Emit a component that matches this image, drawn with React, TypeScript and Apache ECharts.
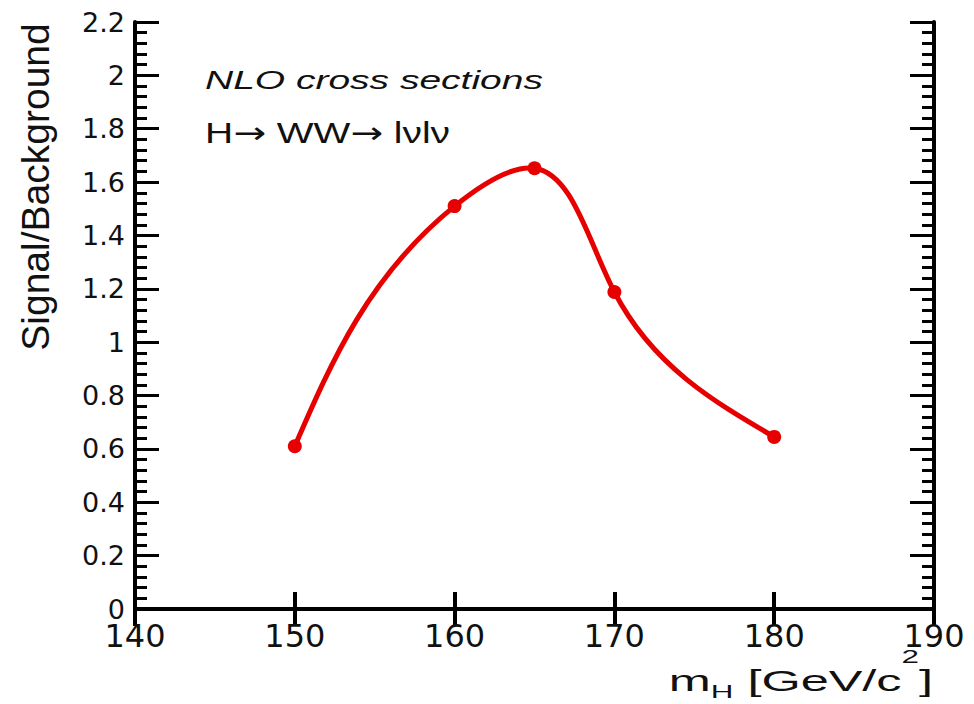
import React, { useEffect, useRef } from "react";
import * as echarts from "echarts";

// ---- data ----
const massValues: number[] = [150, 160, 165, 170, 180]; // m_H [GeV/c^2]
const signalOverBackground: number[] = [0.61, 1.51, 1.652, 1.188, 0.645];

const X_MIN = 140;
const X_MAX = 190;
const X_STEP = 10;
const Y_MIN = 0;
const Y_MAX = 2.2;
const Y_STEP = 0.2;

const yTitle = "Signal/Background";
const note1 = "NLO cross sections";

const RED = "#e60000";

// Natural cubic spline second derivatives for knots t and values v
function secondDerivs(t: number[], v: number[]): number[] {
  const n = t.length;
  const M = new Array(n).fill(0);
  if (n < 3) return M;
  const m = n - 2;
  const a: number[] = [], b: number[] = [], c: number[] = [], r: number[] = [];
  for (let i = 1; i <= n - 2; i++) {
    const h0 = t[i] - t[i - 1];
    const h1 = t[i + 1] - t[i];
    a.push(h0);
    b.push(2 * (h0 + h1));
    c.push(h1);
    r.push(6 * ((v[i + 1] - v[i]) / h1 - (v[i] - v[i - 1]) / h0));
  }
  for (let i = 1; i < m; i++) {
    const w = a[i] / b[i - 1];
    b[i] -= w * c[i - 1];
    r[i] -= w * r[i - 1];
  }
  const sol = new Array(m).fill(0);
  sol[m - 1] = r[m - 1] / b[m - 1];
  for (let i = m - 2; i >= 0; i--) sol[i] = (r[i] - c[i] * sol[i + 1]) / b[i];
  for (let i = 0; i < m; i++) M[i + 1] = sol[i];
  return M;
}

// Smooth parametric (chord-length) spline through pixel points, as SVG path data
function splinePath(pts: number[][]): string {
  const n = pts.length;
  if (n < 2) return "";
  const t: number[] = [0];
  for (let i = 1; i < n; i++) {
    const dx = pts[i][0] - pts[i - 1][0];
    const dy = pts[i][1] - pts[i - 1][1];
    t.push(t[i - 1] + Math.max(1e-6, Math.sqrt(dx * dx + dy * dy)));
  }
  const xs = pts.map((p) => p[0]);
  const ys = pts.map((p) => p[1]);
  const Mx = secondDerivs(t, xs);
  const My = secondDerivs(t, ys);
  let d = `M${xs[0]},${ys[0]}`;
  for (let i = 0; i < n - 1; i++) {
    const h = t[i + 1] - t[i];
    const ctrl = (v: number[], M: number[]) => {
      const sl = (v[i + 1] - v[i]) / h;
      const s0 = sl - (h * (2 * M[i] + M[i + 1])) / 6;
      const s1 = sl + (h * (M[i] + 2 * M[i + 1])) / 6;
      return [v[i] + (s0 * h) / 3, v[i + 1] - (s1 * h) / 3];
    };
    const [cx1, cx2] = ctrl(xs, Mx);
    const [cy1, cy2] = ctrl(ys, My);
    d += ` C${cx1},${cy1} ${cx2},${cy2} ${xs[i + 1]},${ys[i + 1]}`;
  }
  return d;
}

export default function App() {
  const ref = useRef<HTMLDivElement | null>(null);

  useEffect(() => {
    if (!ref.current) return;
    const chart = echarts.init(ref.current, undefined, { renderer: "svg" });

    const axisLineStyle = { color: "#000", width: 4 };
    const labelFont = "DejaVu Sans";
    const points = massValues.map((m, i) => [m, signalOverBackground[i]]);

    const option: echarts.EChartsCoreOption = {
      animation: false,
      backgroundColor: "#fff",
      grid: { left: 135, right: 40, top: 22, bottom: 95, containLabel: false },
      xAxis: [
        {
          type: "value",
          position: "bottom",
          min: X_MIN,
          max: X_MAX,
          interval: X_STEP,
          axisLine: { show: true, lineStyle: axisLineStyle },
          axisTick: { show: true, inside: true, length: 17, lineStyle: { color: "#000", width: 4 } },
          axisLabel: {
            show: true,
            margin: 14,
            color: "#111",
            fontFamily: labelFont,
            fontSize: 32,
            lineHeight: 26,
          },
          splitLine: { show: false },
        },
        {
          type: "value",
          position: "top",
          min: X_MIN,
          max: X_MAX,
          interval: X_STEP,
          axisLine: { show: true, lineStyle: axisLineStyle },
          axisTick: { show: true, inside: true, length: 17, lineStyle: { color: "#000", width: 4 } },
          axisLabel: { show: false },
          splitLine: { show: false },
        },
      ],
      yAxis: [
        {
          type: "value",
          position: "left",
          min: Y_MIN,
          max: Y_MAX,
          interval: Y_STEP,
          axisLine: { show: true, lineStyle: axisLineStyle },
          axisTick: { show: true, inside: true, length: 24, lineStyle: { color: "#000", width: 3 } },
          minorTick: { show: true, splitNumber: 5, length: 12, lineStyle: { color: "#000", width: 3 } },
          axisLabel: {
            show: true,
            margin: 10,
            color: "#111",
            fontFamily: labelFont,
            fontSize: 27,
            lineHeight: 20,
          },
          splitLine: { show: false },
          minorSplitLine: { show: false },
        },
        {
          type: "value",
          position: "right",
          min: Y_MIN,
          max: Y_MAX,
          interval: Y_STEP,
          axisLine: { show: true, lineStyle: axisLineStyle },
          axisTick: { show: true, inside: true, length: 24, lineStyle: { color: "#000", width: 3 } },
          minorTick: { show: true, splitNumber: 5, length: 12, lineStyle: { color: "#000", width: 3 } },
          axisLabel: { show: false },
          splitLine: { show: false },
          minorSplitLine: { show: false },
        },
      ],
      series: [
        {
          type: "custom",
          coordinateSystem: "cartesian2d",
          xAxisIndex: 0,
          yAxisIndex: 0,
          data: points,
          encode: { x: 0, y: 1 },
          clip: false,
          silent: true,
          z: 3,
          renderItem: (params: any, api: any) => {
            if (params.dataIndex !== 0) return null;
            const px = points.map((p) => api.coord(p));
            return {
              type: "path",
              shape: { pathData: splinePath(px) },
              style: {
                stroke: RED,
                lineWidth: 5,
                fill: "none",
                lineJoin: "round",
                lineCap: "round",
              },
            };
          },
        },
        {
          type: "scatter",
          xAxisIndex: 0,
          yAxisIndex: 0,
          data: points,
          symbol: "circle",
          symbolSize: 14,
          itemStyle: { color: RED, opacity: 1 },
          z: 4,
        },
      ],
      graphic: [
        {
          type: "text",
          x: 35,
          y: 187,
          rotation: Math.PI / 2,
          style: {
            text: yTitle,
            fontFamily: "Liberation Sans",
            fontSize: 39,
            fill: "#111",
            textAlign: "center",
            textVerticalAlign: "middle",
          },
        },
        {
          type: "text",
          x: 205,
          y: 80,
          scaleX: 1.5,
          style: {
            text: note1,
            fontFamily: "Liberation Sans",
            fontStyle: "italic",
            fontSize: 26,
            fill: "#111",
            textAlign: "left",
            textVerticalAlign: "middle",
          },
        },
        {
          type: "text",
          x: 205,
          y: 133,
          scaleX: 1.3,
          style: {
            text: "{t|H}{a|\u2192}{t| WW}{a|\u2192}{t| l\u03bdl\u03bd}",
            fontFamily: "Liberation Sans",
            fontSize: 30,
            fill: "#111",
            textAlign: "left",
            textVerticalAlign: "middle",
            rich: {
              t: { fontFamily: "Liberation Sans", fontSize: 30, fill: "#111" },
              a: { fontFamily: "DejaVu Sans", fontSize: 30, fill: "#111" },
            },
          },
        },
        {
          type: "text",
          x: 933,
          y: 681,
          scaleX: 1.74,
          style: {
            text: "{b|m}{sub|H}{b| [GeV/c}{sup|2}{b|]}",
            fontFamily: "Liberation Sans",
            fontSize: 29,
            fill: "#111",
            textAlign: "right",
            textVerticalAlign: "middle",
            rich: {
              b: { fontFamily: "Liberation Sans", fontSize: 29, fill: "#111" },
              sub: { fontFamily: "Liberation Sans", fontSize: 18, fill: "#111", padding: [22, 0, 0, 0] },
              sup: { fontFamily: "Liberation Sans", fontSize: 18, fill: "#111", padding: [0, 0, 48, 0] },
            },
          },
        },
      ],
    };

    chart.setOption(option);
    return () => {
      chart.dispose();
    };
  }, []);

  return (
    <div
      ref={ref}
      style={{ position: "fixed", left: 0, top: 0, width: 974, height: 704, background: "#fff" }}
    />
  );
}
